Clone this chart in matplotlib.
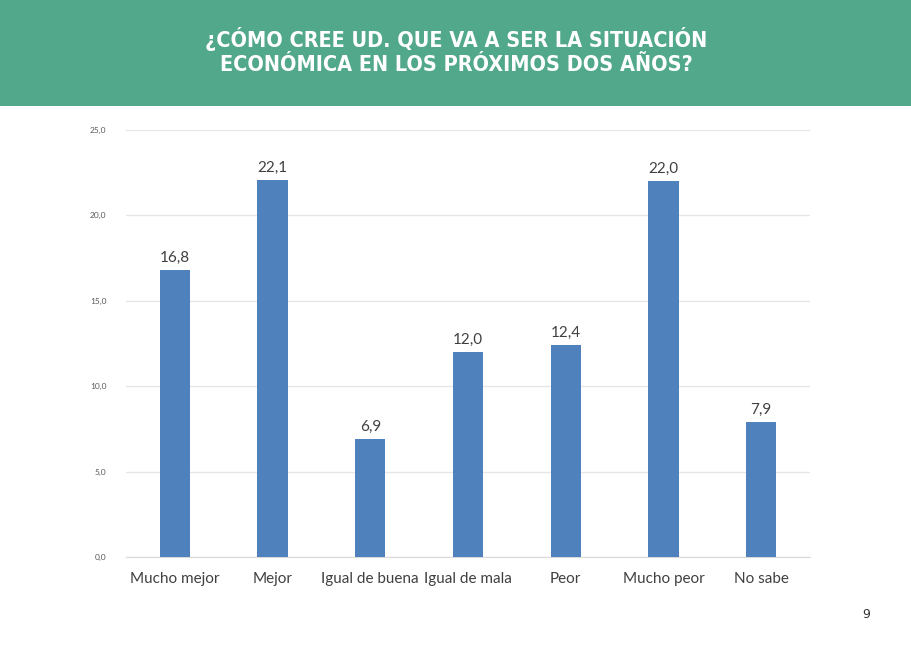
import matplotlib.pyplot as plt
from matplotlib.patches import Rectangle

categories = ['Mucho mejor', 'Mejor', 'Igual de buena', 'Igual de mala',
              'Peor', 'Mucho peor', 'No sabe']
values = [16.8, 22.1, 6.9, 12.0, 12.4, 22.0, 7.9]
yticks = [0, 5, 10, 15, 20, 25]
title = '¿CÓMO CREE UD. QUE VA A SER LA SITUACIÓN\nECONÓMICA EN LOS PRÓXIMOS DOS AÑOS?'
page = '9'

plt.rcParams['font.family'] = ['Lato', 'DejaVu Sans']

fig = plt.figure(figsize=(9.12, 6.45), dpi=100)
fig.patch.set_facecolor('white')

# green header band
fig.patches.append(Rectangle((0, 1 - 106 / 645), 1, 106 / 645, transform=fig.transFigure,
                             facecolor='#52A88A', edgecolor='none', zorder=0))
fig.text(0.5, 1 - 51 / 645, title, ha='center', va='center', color='white',
         fontsize=15.5, fontweight='bold', fontstretch='condensed', linespacing=1.25,
         family=['DejaVu Sans'])

ax = fig.add_axes([126 / 912, 88 / 645, 684 / 912, 427 / 645])
x = range(len(categories))
bars = ax.bar(x, values, width=0.31, color='#4F81BD', zorder=3)
for xi, v in zip(x, values):
    ax.text(xi, v + 0.3, f'{v:.1f}'.replace('.', ','), ha='center', va='bottom',
            fontsize=11, color='#404040')

ax.set_xlim(-0.5, len(categories) - 0.5)
ax.set_ylim(0, 25)
ax.set_yticks(yticks)
ax.set_yticklabels([f'{t:.1f}'.replace('.', ',') for t in yticks], fontsize=6, color='#595959')
ax.set_xticks(list(x))
ax.set_xticklabels(categories, fontsize=11, color='#404040')
ax.tick_params(length=0)
ax.tick_params(axis='x', pad=11)
ax.tick_params(axis='y', pad=14)
ax.grid(axis='y', color='#E6E6E6', linewidth=1, zorder=0)
for s in ['top', 'right', 'left']:
    ax.spines[s].set_visible(False)
ax.spines['bottom'].set_color('#D9D9D9')

fig.text(866 / 912, 1 - 614 / 645, page, ha='center', va='center', fontsize=9,
         color='#333333', family=['DejaVu Sans'])

plt.savefig('out.png', dpi=100)
